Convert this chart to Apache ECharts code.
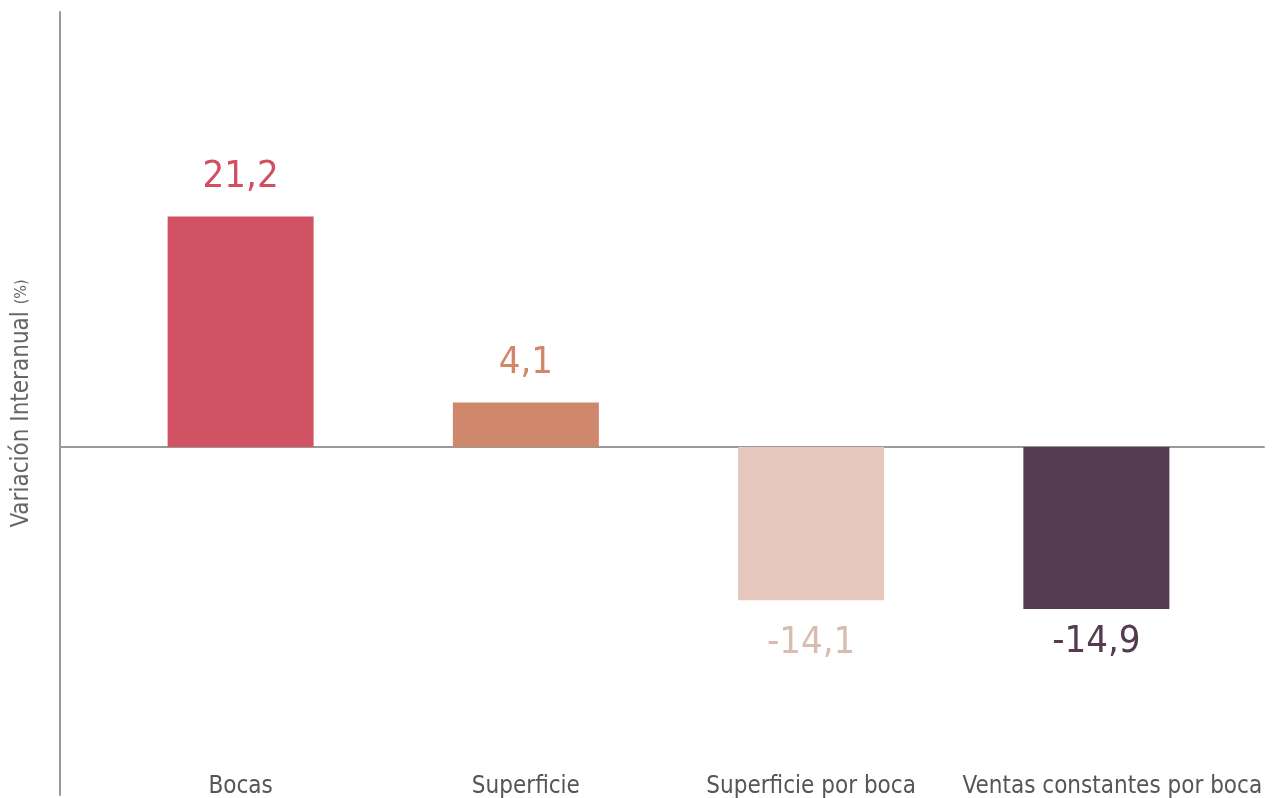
<!DOCTYPE html>
<html>
<head>
<meta charset="utf-8">
<script src="https://cdn.jsdelivr.net/npm/echarts@6/dist/echarts.min.js"></script>
<style>
  html, body { margin: 0; padding: 0; background: #fff; }
  #chart { width: 1274px; height: 798px; }
</style>
</head>
<body>
<div id="chart"></div>
<script>
var categories = ['Bocas', 'Superficie', 'Superficie por boca', 'Ventas constantes por boca'];
var values = [21.2, 4.1, -14.1, -14.9];
var barColors = ['#d05263', '#d0886c', '#e5c8bb', '#543b52'];
var labelColors = ['#d24f62', '#d2876b', '#d9bcb0', '#543b52'];
var labelGaps = [20, 20, 24, 14]; // separación etiqueta-barra

var font = '"Liberation Sans Narrow", "DejaVu Sans Condensed", sans-serif';

var chart = echarts.init(document.getElementById('chart'));

var option = {
    backgroundColor: '#fff',
    animation: false,
    grid: [
        { left: 98, right: 35, top: 12, bottom: 3, outerBoundsMode: 'none', containLabel: false },   // barras
        { left: 60, right: 10, top: 12, bottom: 3, outerBoundsMode: 'none', containLabel: false }    // ejes
    ],
    xAxis: [{
        type: 'category',
        gridIndex: 0,
        data: categories,
        axisLine: { show: false },
        axisTick: { show: false },
        axisLabel: {
            inside: true,
            margin: -4,
            interval: 0,
            color: '#555',
            fontFamily: font,
            fontSize: 24,
            formatter: function(v, i) {
                return i === 3 ? '{r|' + v + '}' : v;
            },
            rich: {
                r: { color: '#555', fontFamily: font, fontSize: 24, padding: [0, 0, 0, 32] }
            }
        }
    }, {
        type: 'value',
        gridIndex: 1,
        min: 0,
        max: 1,
        axisLine: { show: true, onZero: true, lineStyle: { color: '#999', width: 2 } },
        axisTick: { show: false },
        axisLabel: { show: false },
        splitLine: { show: false }
    }],
    yAxis: [{
        type: 'value',
        gridIndex: 0,
        min: -32,
        max: 40,
        show: false
    }, {
        type: 'value',
        gridIndex: 1,
        min: -32,
        max: 40,
        axisLine: { show: true, lineStyle: { color: '#999', width: 2 } },
        axisTick: { show: false },
        axisLabel: { show: false },
        splitLine: { show: false },
        name: '{a|Variación Interanual }{b|(%)}',
        nameLocation: 'middle',
        nameGap: 26,
        nameTextStyle: {
            rich: {
                a: { fontFamily: font, fontSize: 24, color: '#666' },
                b: { fontFamily: font, fontSize: 16, color: '#666' }
            }
        }
    }],
    series: [{
        type: 'bar',
        xAxisIndex: 0,
        yAxisIndex: 0,
        barWidth: 146,
        data: values.map(function(v, i) {
            return {
                value: v,
                itemStyle: { color: barColors[i] },
                label: {
                    show: true,
                    position: v >= 0 ? 'top' : 'bottom',
                    distance: labelGaps[i],
                    color: labelColors[i],
                    fontFamily: font,
                    fontSize: 38,
                    formatter: function(p) {
                        return String(p.value).replace('.', ',');
                    }
                }
            };
        })
    }]
};

chart.setOption(option);
window.onresize = chart.resize;
</script>
</body>
</html>
